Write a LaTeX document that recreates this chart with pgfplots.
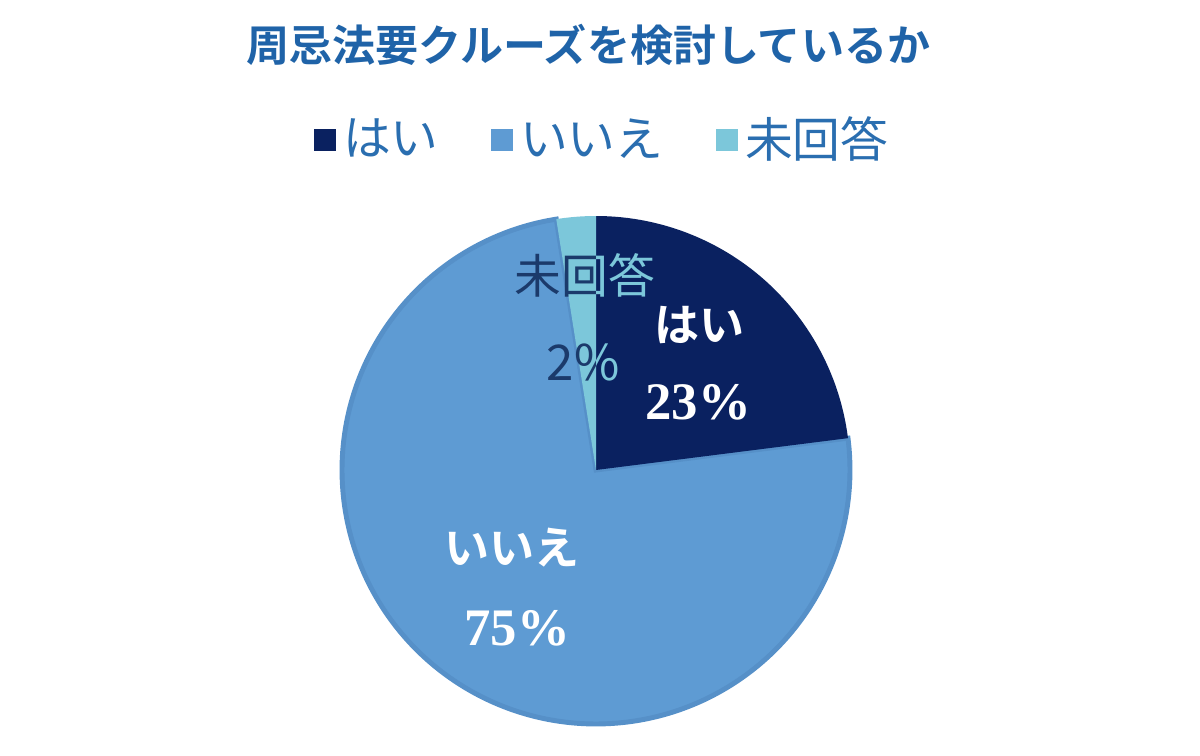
\documentclass[border=0pt]{standalone}
\usepackage{pgfplots}
\pgfplotsset{compat=1.18}
\usepackage{fontspec}
\setmainfont{Noto Sans CJK JP}[BoldFont={Noto Sans CJK JP Bold}]
\newfontfamily\serifnum{Liberation Serif}[BoldFont={Liberation Serif Bold}]
\definecolor{cyes}{HTML}{0A2160}
\definecolor{cno}{HTML}{5E9BD3}
\definecolor{cna}{HTML}{7CC7DA}
\definecolor{cborder}{HTML}{5690C8}
\definecolor{ctitle}{HTML}{1F63A8}
\definecolor{clegend}{HTML}{2A6EB0}
\definecolor{clabel}{HTML}{1B3A6B}
% values (percent of the circle)
\def\vYes{23}
\def\vNo{74.5}
\def\vNA{2.5}
\pgfmathsetmacro\aYesStart{90-3.6*\vYes}
\pgfmathsetmacro\aNAEnd{90+3.6*\vNA}
\pgfmathsetmacro\aNoEnd{\aNAEnd+3.6*\vNo}
\begin{document}
\begin{tikzpicture}
\begin{axis}[
  hide axis, scale only axis, width=120mm, height=75.6mm,
  xmin=-2.3465, xmax=2.3780, ymin=-1.1260, ymax=1.8504,
  clip=false,
  legend columns=3,
  legend style={at={(axis cs:0.035,1.299)}, anchor=center, draw=none, fill=none,
    font=\fontsize{13.6}{15}\selectfont\color{clegend},
    /tikz/every odd column/.append style={column sep=0pt},
    /tikz/every even column/.append style={column sep=13pt}},
  legend cell align=left,
  legend image code/.code={\fill[#1,draw=none] (0pt,-3.1pt) rectangle (6.2pt,3.1pt);},
]
\path (rel axis cs:0,0) rectangle (rel axis cs:1,1);
\addplot[forget plot, fill=cno, draw=cborder, line width=1.4pt, domain=\aNAEnd:\aNoEnd, samples=120, smooth]
  ({cos(x)},{sin(x)}) -- (axis cs:0,0) -- cycle;
\addplot[forget plot, fill=cyes, draw=none, domain=\aYesStart:90, samples=60, smooth]
  ({cos(x)},{sin(x)}) -- (axis cs:0,0) -- cycle;
\addplot[forget plot, fill=cna, draw=none, domain=90:\aNAEnd, samples=10, smooth]
  ({cos(x)},{sin(x)}) -- (axis cs:0,0) -- cycle;
\addlegendimage{fill=cyes}
\addlegendentry{はい}
\addlegendimage{fill=cno}
\addlegendentry{いいえ}
\addlegendimage{fill=cna}
\addlegendentry{未回答}
% title
\node[font=\fontsize{12.25}{14}\selectfont\bfseries, text=ctitle] at (axis cs:-0.031,1.673) {周忌法要クルーズを検討しているか};
% slice labels of the small slice: dark left of the 12 o'clock edge, light right of it
\begin{scope}
\clip (axis cs:-1,0) rectangle (axis cs:0,1.05);
\node[font=\fontsize{13.3}{15}\selectfont, text=clabel] at (axis cs:-0.043,0.768) {未回答};
\node[font=\fontsize{14}{16}\selectfont, text=clabel] at (axis cs:-0.051,0.425) {2\%};
\end{scope}
\begin{scope}
\clip (axis cs:0,0) rectangle (axis cs:1,1.05);
\node[font=\fontsize{13.3}{15}\selectfont, text=cna] at (axis cs:-0.043,0.768) {未回答};
\node[font=\fontsize{14}{16}\selectfont, text=cna] at (axis cs:-0.051,0.425) {2\%};
\end{scope}
\node[font=\fontsize{12.8}{15}\selectfont\bfseries, text=white] at (axis cs:0.409,0.571) {はい};
\node[font=\serifnum\fontsize{15}{17}\selectfont\bfseries, text=white] at (axis cs:0.402,0.268) {23\%};
\node[font=\fontsize{12.8}{15}\selectfont\bfseries, text=white] at (axis cs:-0.331,-0.307) {いいえ};
\node[font=\serifnum\fontsize{15}{17}\selectfont\bfseries, text=white] at (axis cs:-0.311,-0.622) {75\%};
\end{axis}
\end{tikzpicture}
\end{document}
